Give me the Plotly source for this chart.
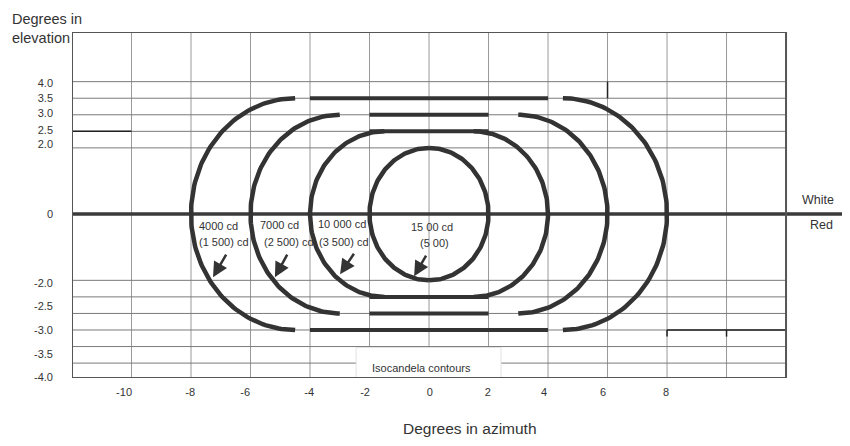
import numpy as np
import plotly.graph_objects as go

# ---------------- data ----------------
x_tick_labels = ["-10", "-8", "-6", "-4", "-2", "0", "2", "4", "6", "8"]
x_tick_label_pos = [-10.25, -8.03, -6.18, -4.03, -2.15, 0.03, 1.98, 3.87, 5.85, 7.97]
y_tick_labels = ["4.0", "3.5", "3.0", "2.5", "2.0", "0", "-2.0", "-2.5", "-3.0", "-3.5", "-4.0"]
y_tick_label_pos = [3.97, 3.50, 3.05, 2.55, 2.11, 0.0, -2.08, -2.79, -3.50, -4.23, -4.91]

x_grid = [-10, -8, -6, -4, -2, 0, 2, 4, 6, 8, 10]
y_grid = [4.0, 3.5, 3.0, 2.5, 2.0, -2.0, -2.5, -3.0, -3.5, -4.0, -4.5]

# isocandela contours (white / red intensities)
contour_white = ["15 00 cd", "10 000 cd", "7000 cd", "4000 cd"]
contour_red = ["(5 00)", "(3 500) cd", "(2 500) cd", "(1 500) cd"]
arc_center_offset = [0.0, 1.5, 3.0, 4.5]   # degrees azimuth of arc centres (±)
arc_radius = [2.0, 2.5, 3.0, 3.5]          # degrees
bar_level = [3.5, 3.0, 2.5, -2.5, -3.0, -3.5]
bar_half_width = [4.0, 2.0, 2.0, 2.0, 2.0, 4.0]

# label / arrow placement
white_label_x = [0.10, -3.80, -5.75, -7.80]
white_label_y = [-0.39, -0.30, -0.33, -0.36]
red_label_x = [0.18, -3.76, -5.61, -7.80]
red_label_y = [-0.88, -0.85, -0.85, -0.85]
label_anchor = ["center", "left", "left", "left"]
arrow_head_x = [-0.50, -2.99, -5.18, -7.26]
arrow_head_y = [-1.88, -1.82, -1.91, -1.91]
arrow_tail_x = [-0.07, -2.49, -4.74, -6.79]
arrow_tail_y = [-1.21, -1.15, -1.18, -1.18]

# odd dark segments present in the drawing
extra_seg_x0 = [-12, 8, 8, 10, 6]
extra_seg_x1 = [-10, 12, 8, 10, 6]
extra_seg_y0 = [2.5, -3.5, -3.5, -3.5, 4.0]
extra_seg_y1 = [2.5, -3.5, -3.7, -3.7, 3.5]

X_MIN, X_FRAME, X_MAX = -12.0, 12.0, 14.15
Y_MIN, Y_MAX = -4.95, 5.5

FONT = "Liberation Sans, Arial, sans-serif"
INK = "#333333"

fig = go.Figure()

# zero (white/red) dividing line
fig.add_trace(go.Scatter(x=[X_MIN, X_MAX], y=[0, 0], mode="lines",
                         line=dict(color="#3a3a3a", width=3.5),
                         hoverinfo="skip", showlegend=False))

# contour arcs
for c, r in zip(arc_center_offset, arc_radius):
    t_left = np.linspace(np.pi / 2, 3 * np.pi / 2, 120)
    t_right = np.linspace(-np.pi / 2, np.pi / 2, 120)
    for cx, t in ((-c, t_left), (c, t_right)):
        fig.add_trace(go.Scatter(x=cx + r * np.cos(t), y=r * np.sin(t), mode="lines",
                                 line=dict(color=INK, width=4.5),
                                 hoverinfo="skip", showlegend=False))

# flat contour segments
for lvl, hw in zip(bar_level, bar_half_width):
    fig.add_trace(go.Scatter(x=[-hw, hw], y=[lvl, lvl], mode="lines",
                             line=dict(color=INK, width=4),
                             hoverinfo="skip", showlegend=False))

shapes = []
for gx in x_grid:
    shapes.append(dict(type="line", xref="x", yref="y", x0=gx, x1=gx, y0=Y_MIN, y1=Y_MAX,
                       line=dict(color="#999999", width=1), layer="below"))
for gy in y_grid:
    shapes.append(dict(type="line", xref="x", yref="y", x0=X_MIN, x1=X_FRAME, y0=gy, y1=gy,
                       line=dict(color="#7a7a7a", width=1), layer="below"))
for a, b, c_, d in zip(extra_seg_x0, extra_seg_x1, extra_seg_y0, extra_seg_y1):
    shapes.append(dict(type="line", xref="x", yref="y", x0=a, x1=b, y0=c_, y1=d,
                       line=dict(color="#222222", width=1.5), layer="below"))
# legend box
shapes.append(dict(type="rect", xref="x", yref="y", x0=-2.45, x1=2.42, y0=Y_MIN, y1=-4.03,
                   fillcolor="white", line=dict(color="#e2e2e2", width=1), layer="below"))
# frame
shapes.append(dict(type="rect", xref="x", yref="y", x0=X_MIN, x1=X_FRAME, y0=Y_MIN, y1=Y_MAX,
                   line=dict(color="#555555", width=2), layer="above"))

annotations = []
for i in range(len(contour_white)):
    annotations.append(dict(x=white_label_x[i], y=white_label_y[i], xref="x", yref="y",
                            text=contour_white[i], showarrow=False, xanchor=label_anchor[i],
                            yanchor="middle", font=dict(family=FONT, size=11, color=INK)))
    annotations.append(dict(x=red_label_x[i], y=red_label_y[i], xref="x", yref="y",
                            text=contour_red[i], showarrow=False, xanchor=label_anchor[i],
                            yanchor="middle", font=dict(family=FONT, size=11, color=INK)))
    annotations.append(dict(x=arrow_head_x[i], y=arrow_head_y[i], xref="x", yref="y",
                            ax=arrow_tail_x[i], ay=arrow_tail_y[i], axref="x", ayref="y",
                            text="", showarrow=True, arrowhead=2, arrowsize=1.2,
                            arrowwidth=2.5, arrowcolor=INK, standoff=0))

annotations += [
    dict(x=13.08, y=0.42, xref="x", yref="y", text="White", showarrow=False,
         font=dict(family=FONT, size=12.5, color=INK)),
    dict(x=13.18, y=-0.32, xref="x", yref="y", text="Red", showarrow=False,
         font=dict(family=FONT, size=12.5, color=INK)),
    dict(x=-0.24, y=-4.64, xref="x", yref="y", text="Isocandela contours", showarrow=False,
         font=dict(family=FONT, size=11, color=INK)),
    dict(x=-62 / 778, y=1.066, xref="paper", yref="paper", xanchor="left", yanchor="top",
         align="left", text="Degrees in<br>elevation", showarrow=False,
         font=dict(family=FONT, size=14.5, color=INK)),
    dict(x=(470 - 72) / 778, y=-50 / 346, xref="paper", yref="paper", xanchor="center",
         yanchor="middle", text="Degrees in azimuth", showarrow=False,
         font=dict(family=FONT, size=15.5, color=INK)),
]

fig.update_layout(
    width=850, height=446,
    margin=dict(l=64, r=8, t=24, b=76, autoexpand=False),
    paper_bgcolor="white", plot_bgcolor="white",
    showlegend=False,
    shapes=shapes, annotations=annotations,
    xaxis=dict(range=[X_MIN, X_MAX], showgrid=False, zeroline=False, showline=False,
               automargin=False,
               tickmode="array", tickvals=x_tick_label_pos, ticktext=x_tick_labels,
               ticks="", ticklabelstandoff=6,
               tickfont=dict(family=FONT, size=11, color=INK), fixedrange=True),
    yaxis=dict(range=[Y_MIN, Y_MAX], showgrid=False, zeroline=False, showline=False,
               automargin=False,
               tickmode="array", tickvals=y_tick_label_pos, ticktext=y_tick_labels,
               ticks="", ticklabelstandoff=18,
               tickfont=dict(family=FONT, size=11, color=INK), fixedrange=True),
)

fig.write_html("out.html")
